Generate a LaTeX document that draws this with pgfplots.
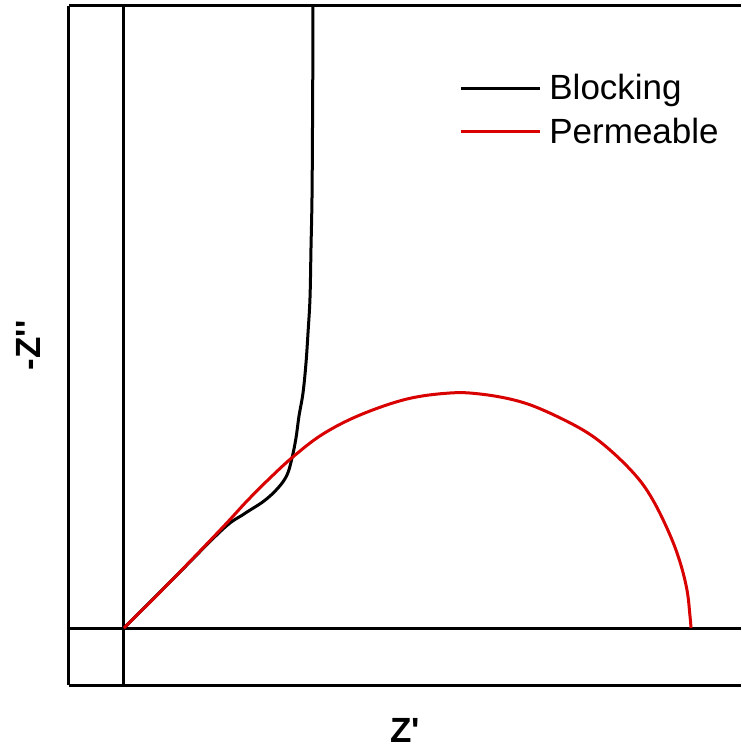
\documentclass[border=0pt]{standalone}
\usepackage{fontspec}
\setmainfont{Liberation Sans}[Ligatures=TeXOff]
\usepackage{pgfplots}
\pgfplotsset{compat=1.18}

\begin{document}
\begin{tikzpicture}
% fixed page frame around the plot box
\useasboundingbox (-34.5pt,-33pt) rectangle (336pt,342.5pt);
\begin{axis}[
  name=ax,
  scale only axis,
  width=336pt, height=339.5pt,
  xmin=-55, xmax=617, ymin=-57, ymax=622,
  axis x line=box, axis y line=left,
  axis line style={-, line width=1.5pt},
  ticks=none,
  xlabel={\textbf{Z'}}, ylabel={\textbf{-Z''}},
  label style={font=\fontsize{17.5}{21}\selectfont},
  xlabel style={at={(axis description cs:0.5,0)}, anchor=center, yshift=-22.5pt},
  ylabel style={at={(axis description cs:0,0.5)}, anchor=center, yshift=20.5pt},
  legend style={at={(axis cs:335,558)}, anchor=north west, draw=none, fill=none,
    font=\fontsize{17.5}{21}\selectfont, inner sep=0pt, row sep=3.5pt},
  legend cell align=left,
  legend image code/.code={\draw[#1] (0pt,0pt) -- (39.5pt,0pt); \path (41.5pt,0pt);},
  clip=true,
]
% Z' = 0 and Z'' = 0 reference lines
\addplot[forget plot, line width=1.5pt] coordinates {(0,-57) (0,622)};
\addplot[forget plot, line width=1.5pt] coordinates {(-55,0) (617,0)};

% blocking electrode
\addplot[black, line width=1.5pt, smooth, tension=0.6] coordinates {
  (0,0) (50,50) (99,99) (120,114) (140,127) (154,140) (163,153)
  (168,170) (172,190) (175,212) (179,235) (182,265) (184,295)
  (186,330) (187,380) (188,430) (188.5,500) (188.8,560) (189,622)
};
\addlegendentry{Blocking}

% permeable electrode
\addplot[red!85!black, line width=1.5pt, smooth, tension=0.6] coordinates {
  (0,0) (50,50) (99,101) (123,127) (146,150) (170,172) (199,194)
  (236,213) (283,229) (326,235) (356,234) (390,228) (419,218)
  (459,198) (486,178) (513,151) (530,126) (546,93) (556,66)
  (563,38) (566,12) (567,0)
};
\addlegendentry{Permeable}
\end{axis}
\end{tikzpicture}
\end{document}
